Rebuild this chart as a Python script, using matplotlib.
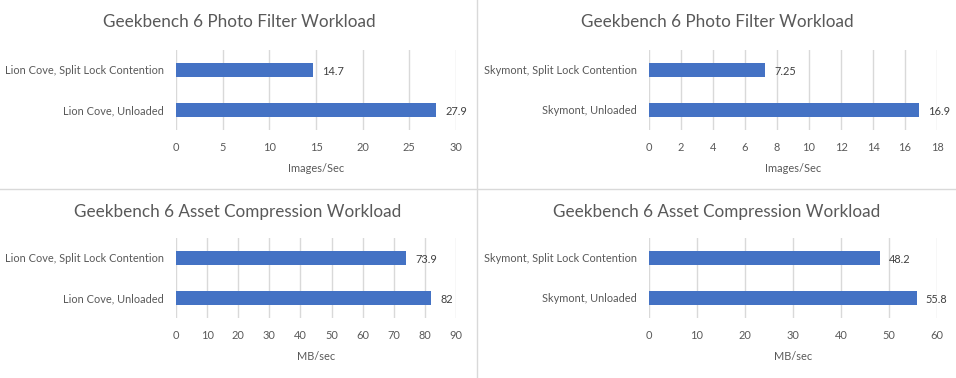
import matplotlib.pyplot as plt
from matplotlib.lines import Line2D

plt.rcParams['font.family'] = ['Lato', 'DejaVu Sans']

# data
lc_labels = ["Lion Cove, Unloaded", "Lion Cove, Split Lock Contention"]
sk_labels = ["Skymont, Unloaded", "Skymont, Split Lock Contention"]
photo_lc = [27.9, 14.7]
photo_sk = [16.9, 7.25]
photo_lc_txt = ["27.9", "14.7"]
photo_sk_txt = ["16.9", "7.25"]
asset_lc = [82, 73.9]
asset_sk = [55.8, 48.2]
asset_lc_txt = ["82", "73.9"]
asset_sk_txt = ["55.8", "48.2"]

bar_color = '#4472C4'
grid_color = '#D9D9D9'
text_color = '#595959'

W, H = 956, 378
fig = plt.figure(figsize=(W / 100, H / 100), dpi=100)


def panel(left, right, top, bottom, labels, vals, txts, xmax, step, xlabel):
    ax = fig.add_axes([left / W, 1 - bottom / H, (right - left) / W, (bottom - top) / H])
    ax.barh(range(len(vals)), vals, height=0.37, color=bar_color, zorder=3)
    ax.set_xlim(0, xmax)
    ax.set_ylim(-0.5, len(vals) - 0.5)
    ax.set_xticks(range(0, xmax + 1, step))
    ax.set_yticks(range(len(vals)))
    ax.set_yticklabels(labels)
    ax.tick_params(length=0, labelsize=7.9, colors=text_color)
    ax.tick_params(axis='y', pad=8.6)
    ax.tick_params(axis='x', pad=8.5)
    ax.grid(axis='x', color=grid_color, linewidth=1, zorder=0)
    for s in ax.spines.values():
        s.set_visible(False)
    for i, (v, t) in enumerate(zip(vals, txts)):
        ax.annotate(t, (v, i), xytext=(6.5, -1), textcoords='offset points',
                    va='center', ha='left', fontsize=7.9, color='#404040')
    ax.set_xlabel(xlabel, fontsize=7.9, color=text_color, labelpad=7.5)
    return ax


panel(176, 456, 50, 130, lc_labels, photo_lc, photo_lc_txt, 30, 5, "Images/Sec")
panel(649, 937, 50, 130, sk_labels, photo_sk, photo_sk_txt, 18, 2, "Images/Sec")
panel(176, 456, 238, 318, lc_labels, asset_lc, asset_lc_txt, 90, 10, "MB/sec")
panel(649, 937, 238, 318, sk_labels, asset_sk, asset_sk_txt, 60, 10, "MB/sec")

# titles centred on each chart frame
title_kw = dict(ha='center', va='center', fontsize=12.3, color=text_color)
fig.text(239 / W, 1 - 22 / H, "Geekbench 6 Photo Filter Workload", **title_kw)
fig.text(717 / W, 1 - 22 / H, "Geekbench 6 Photo Filter Workload", **title_kw)
fig.text(238 / W, 1 - 212 / H, "Geekbench 6 Asset Compression Workload", **title_kw)
fig.text(717 / W, 1 - 212 / H, "Geekbench 6 Asset Compression Workload", **title_kw)

# chart frame separators
fig.add_artist(Line2D([477 / W, 477 / W], [0, 1], color=grid_color, linewidth=1))
fig.add_artist(Line2D([0, 1], [1 - 189 / H, 1 - 189 / H], color=grid_color, linewidth=1))

fig.savefig('out.png', dpi=100)
